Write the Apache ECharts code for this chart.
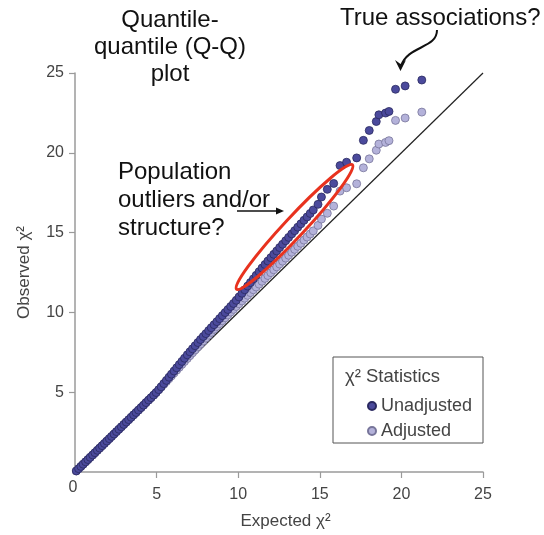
<!DOCTYPE html>
<html><head><meta charset="utf-8">
<script src="https://cdn.jsdelivr.net/npm/echarts@6/dist/echarts.min.js"></script>
<style>html,body{margin:0;padding:0;background:#fff}#c{width:544px;height:535px}</style>
</head><body><div id="c"></div>
<script>
// Expected chi-square quantiles (shared x values)
const expected = [0.08,0.22,0.36,0.50,0.65,0.79,0.93,1.08,1.22,1.37,1.51,1.66,1.80,1.95,2.10,2.24,2.39,2.54,2.69,2.84,2.99,3.14,3.29,3.44,3.59,3.74,3.89,4.05,4.20,4.35,4.51,4.66,4.82,4.97,
5.13,5.28,5.44,5.60,5.76,5.91,6.07,6.23,6.39,6.55,6.71,6.88,7.04,7.20,7.36,7.53,7.69,7.86,8.02,8.19,8.35,8.52,8.69,8.86,9.03,9.20,9.37,9.54,9.71,9.88,10.05,10.23,10.40,10.58,10.75,10.93,11.10,11.28,11.46,11.64,11.82,12.00,12.18,12.36,12.54,12.72,12.91,13.09,13.28,13.46,13.65,13.84,14.03,14.22,14.41,14.60,14.89,
15.10,15.46,15.85,16.24,16.64,17.26,17.67,18.03,18.46,18.62,19.03,19.24,19.64,20.23,21.25];
// Observed chi-square, unadjusted
const observedUnadjusted = [0.07,0.21,0.35,0.49,0.64,0.78,0.92,1.07,1.21,1.36,1.50,1.65,1.79,1.94,2.09,2.23,2.38,2.53,2.68,2.83,2.98,3.13,3.28,3.43,3.58,3.73,3.88,4.04,4.19,4.35,4.51,4.66,4.82,4.98,
5.16,5.34,5.54,5.74,5.94,6.13,6.33,6.53,6.73,6.93,7.13,7.34,7.53,7.72,7.91,8.11,8.30,8.49,8.67,8.86,9.04,9.23,9.42,9.61,9.80,9.99,10.18,10.37,10.56,10.76,10.97,11.20,11.42,11.65,11.87,12.10,12.32,12.55,12.78,13.00,13.22,13.43,13.64,13.85,14.06,14.27,14.49,14.70,14.92,15.12,15.34,15.55,15.77,15.98,16.20,16.42,16.77,
17.23,17.71,18.08,19.20,19.41,19.68,20.78,21.40,21.96,22.38,22.49,22.59,23.98,24.19,24.56];
// Observed chi-square, adjusted
const observedAdjusted = [0.06,0.20,0.34,0.48,0.63,0.77,0.91,1.06,1.20,1.35,1.49,1.64,1.78,1.93,2.08,2.22,2.37,2.52,2.67,2.82,2.97,3.12,3.27,3.42,3.57,3.72,3.87,4.03,4.18,4.34,4.50,4.65,4.81,4.97,
5.15,5.31,5.49,5.67,5.85,6.02,6.20,6.38,6.56,6.74,6.92,7.11,7.29,7.47,7.65,7.84,8.02,8.21,8.39,8.58,8.75,8.94,9.12,9.30,9.48,9.66,9.84,10.02,10.19,10.37,10.54,10.72,10.89,11.07,11.24,11.42,11.59,11.77,11.95,12.13,12.31,12.49,12.67,12.85,13.03,13.21,13.40,13.58,13.77,13.95,14.14,14.33,14.53,14.72,14.91,15.11,15.45,
15.85,16.21,16.66,17.60,17.81,18.06,19.06,19.62,20.16,20.55,20.65,20.76,22.03,22.18,22.55];
// Reference (expected = observed) line
const refLineX = [0, 25];
const refLineY = [0, 25];
// Tick labels
const xTickLabels = [0, 5, 10, 15, 20, 25];
const yTickLabels = [5, 10, 15, 20, 25];
const seriesNames = ['Unadjusted', 'Adjusted'];

const FONT = 'Liberation Sans, Arial, sans-serif';
const zip = (a, b) => a.map((v, i) => [v, b[i]]);

const chart = echarts.init(document.getElementById('c'), null, {renderer: 'canvas'});
const axisGrey = '#9a9a9a';
chart.setOption({
  animation: false,
  backgroundColor: '#fff',
  textStyle: {fontFamily: FONT},
  grid: {left: 75, right: 61, top: 73, bottom: 61},
  xAxis: {
    type: 'value', min: 0, max: 25, interval: 5,
    name: 'Expected χ²', nameLocation: 'middle', nameGap: 41,
    nameTextStyle: {fontSize: 17, color: '#444', fontFamily: FONT, padding: [0, 0, 0, 13]},
    axisLine: {show: true, onZero: false, lineStyle: {color: axisGrey, width: 1.5}},
    axisTick: {show: true, length: 6, customValues: xTickLabels.filter(v => v > 0), lineStyle: {color: axisGrey, width: 1.2}},
    axisLabel: {
      customValues: xTickLabels, margin: 15, fontSize: 16, color: '#444', fontFamily: FONT,
      formatter: v => v === 0 ? '{o|0}' : String(v),
      rich: {o: {fontSize: 16, color: '#444', fontFamily: FONT, lineHeight: 1, padding: [0, 4, 0, 0]}}
    },
    splitLine: {show: false}
  },
  yAxis: {
    type: 'value', min: 0, max: 25, interval: 5,
    name: 'Observed χ²', nameLocation: 'middle', nameGap: 42, nameRotate: 90,
    nameTextStyle: {fontSize: 17, color: '#444', fontFamily: FONT},
    axisLine: {show: true, onZero: false, lineStyle: {color: axisGrey, width: 1.5}},
    axisTick: {show: true, length: 6, customValues: yTickLabels, lineStyle: {color: axisGrey, width: 1.2}},
    axisLabel: {customValues: yTickLabels, margin: 11, fontSize: 16, color: '#444', fontFamily: FONT},
    splitLine: {show: false}
  },
  legend: {
    data: seriesNames, orient: 'vertical', left: 362, top: 392,
    itemWidth: 8, itemHeight: 8, itemGap: 7, icon: 'circle',
    textStyle: {fontSize: 18, color: '#444', fontFamily: FONT, lineHeight: 18},
    selectedMode: false
  },
  graphic: [
    {type: 'rect', shape: {x: 333, y: 357, width: 150, height: 86}, style: {fill: 'none', stroke: '#555', lineWidth: 1}, silent: true},
    {type: 'text', x: 345, y: 377, style: {text: 'χ² Statistics', fontSize: 18.5, fill: '#444', fontFamily: FONT, verticalAlign: 'middle'}},
    {type: 'text', x: 170, y: 47, style: {text: 'Quantile-\nquantile (Q-Q)\nplot', fontSize: 24, lineHeight: 27, fill: '#111', fontFamily: FONT, align: 'center', verticalAlign: 'middle'}},
    {type: 'text', x: 340, y: 18, style: {text: 'True associations?', fontSize: 24, fill: '#111', fontFamily: FONT, verticalAlign: 'middle'}},
    {type: 'text', x: 118, y: 200, style: {text: 'Population\noutliers and/or\nstructure?', fontSize: 24, lineHeight: 28, fill: '#111', fontFamily: FONT, verticalAlign: 'middle'}},
    {type: 'line', shape: {x1: 237, y1: 211, x2: 278, y2: 211}, style: {stroke: '#111', lineWidth: 1.5}},
    {type: 'polygon', shape: {points: [[284, 211], [276, 207.5], [276, 214.5]]}, style: {fill: '#111'}},
    {type: 'bezierCurve', shape: {x1: 437, y1: 30, cpx1: 437, cpy1: 49, cpx2: 408, cpy2: 45, x2: 401, y2: 66}, style: {stroke: '#111', lineWidth: 2, fill: 'none'}},
    {type: 'polygon', shape: {points: [[395, 60], [400.5, 64], [406, 60], [400.5, 71]]}, style: {fill: '#111'}},
    {type: 'ellipse', x: 294.5, y: 227, rotation: 0.82, shape: {cx: 0, cy: 0, rx: 85, ry: 10}, style: {fill: 'none', stroke: '#e8321e', lineWidth: 3}, z: 100}
  ],
  series: [
    {type: 'line', data: zip(refLineX, refLineY), symbol: 'none', clip: false, silent: true,
     lineStyle: {color: '#222', width: 1.2}, z: 1},
    {name: 'Adjusted', type: 'scatter', data: zip(expected, observedAdjusted), symbol: 'circle', symbolSize: 8,
     itemStyle: {color: '#b4b2da', borderColor: '#77759a', borderWidth: 0.8, opacity: 1}, z: 2},
    {name: 'Unadjusted', type: 'scatter', data: zip(expected, observedUnadjusted), symbol: 'circle', symbolSize: 8,
     itemStyle: {color: '#4b4a9c', borderColor: '#2a2960', borderWidth: 0.8, opacity: 1}, z: 3}
  ]
});
</script>
</body></html>
